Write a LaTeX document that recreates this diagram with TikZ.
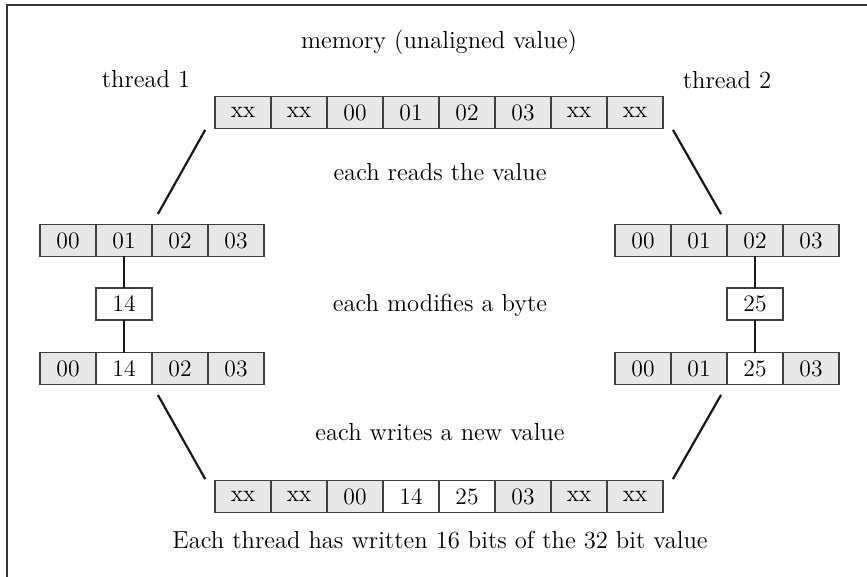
\documentclass[tikz,border=0pt]{standalone}
\usetikzlibrary{positioning}

\begin{document}
\begin{tikzpicture}[
    x=0.5pt, y=-0.5pt,
    cell/.style={rectangle, draw=black!75, fill=gray!18, line width=0.6pt, minimum width=28pt, minimum height=16pt, inner sep=0pt, outer sep=0pt, font=\fontsize{11.8}{14}\selectfont},
    newcell/.style={cell, fill=white},
    label/.style={font=\fontsize{12.3}{15}\selectfont, inner sep=0pt},
    link/.style={line width=1.1pt, black!90, shorten <=10pt, shorten >=6pt},
    stem/.style={line width=1.1pt, black!90},
    frame/.style={line width=1pt, black!80}
]
    \useasboundingbox (0,0) rectangle (867,577);
    \draw[frame] (7,577) -- (7,5) -- (867,5);

    % Texte
    \node[label] (title) at (439,42) {memory (unaligned value)};
    \node[label] (thr1) at (146,79) {thread 1};
    \node[label] (thr2) at (727,80) {thread 2};
    \node[label] (reads) at (440,172) {each reads the value};
    \node[label] (modifies) at (440,305) {each modifies a byte};
    \node[label] (writes) at (440,432) {each writes a new value};
    \node[label] (caption) at (440,540) {Each thread has written 16 bits of the 32 bit value};

    % Memoire avant
    \node[cell] (mem1) at (243,112.5) {xx};
    \node[cell, right=0pt of mem1] (mem2) {xx};
    \node[cell, right=0pt of mem2] (mem3) {00};
    \node[cell, right=0pt of mem3] (mem4) {01};
    \node[cell, right=0pt of mem4] (mem5) {02};
    \node[cell, right=0pt of mem5] (mem6) {03};
    \node[cell, right=0pt of mem6] (mem7) {xx};
    \node[cell, right=0pt of mem7] (mem8) {xx};

    % Thread 1
    \node[cell] (t1r1) at (68,240.5) {00};
    \node[cell, right=0pt of t1r1] (t1r2) {01};
    \node[cell, right=0pt of t1r2] (t1r3) {02};
    \node[cell, right=0pt of t1r3] (t1r4) {03};
    \node[newcell] (new14) at (124,304) {14};
    \node[cell] (t1w1) at (68,368.5) {00};
    \node[newcell, right=0pt of t1w1] (t1w2) {14};
    \node[cell, right=0pt of t1w2] (t1w3) {02};
    \node[cell, right=0pt of t1w3] (t1w4) {03};

    % Thread 2
    \node[cell] (t2r1) at (643,240.5) {00};
    \node[cell, right=0pt of t2r1] (t2r2) {01};
    \node[cell, right=0pt of t2r2] (t2r3) {02};
    \node[cell, right=0pt of t2r3] (t2r4) {03};
    \node[newcell] (new25) at (755,304) {25};
    \node[cell] (t2w1) at (643,368.5) {00};
    \node[cell, right=0pt of t2w1] (t2w2) {01};
    \node[newcell, right=0pt of t2w2] (t2w3) {25};
    \node[cell, right=0pt of t2w3] (t2w4) {03};

    % Memoire apres
    \node[cell] (out1) at (243,496.5) {xx};
    \node[cell, right=0pt of out1] (out2) {xx};
    \node[cell, right=0pt of out2] (out3) {00};
    \node[newcell, right=0pt of out3] (out4) {14};
    \node[newcell, right=0pt of out4] (out5) {25};
    \node[cell, right=0pt of out5] (out6) {03};
    \node[cell, right=0pt of out6] (out7) {xx};
    \node[cell, right=0pt of out7] (out8) {xx};

    % Liens
    \draw[link] (mem1.west) -- (t1r2.north east);
    \draw[link] (mem8.east) -- (t2r3.north west);
    \draw[link, shorten <=6pt, shorten >=10pt] (t1w2.south east) -- (out1.west);
    \draw[link, shorten <=6pt, shorten >=10pt] (t2w3.south west) -- (out8.east);
    \draw[stem] (t1r2.south) -- (new14.north);
    \draw[stem] (new14.south) -- (t1w2.north);
    \draw[stem] (t2r3.south) -- (new25.north);
    \draw[stem] (new25.south) -- (t2w3.north);

\end{tikzpicture}
\end{document}
